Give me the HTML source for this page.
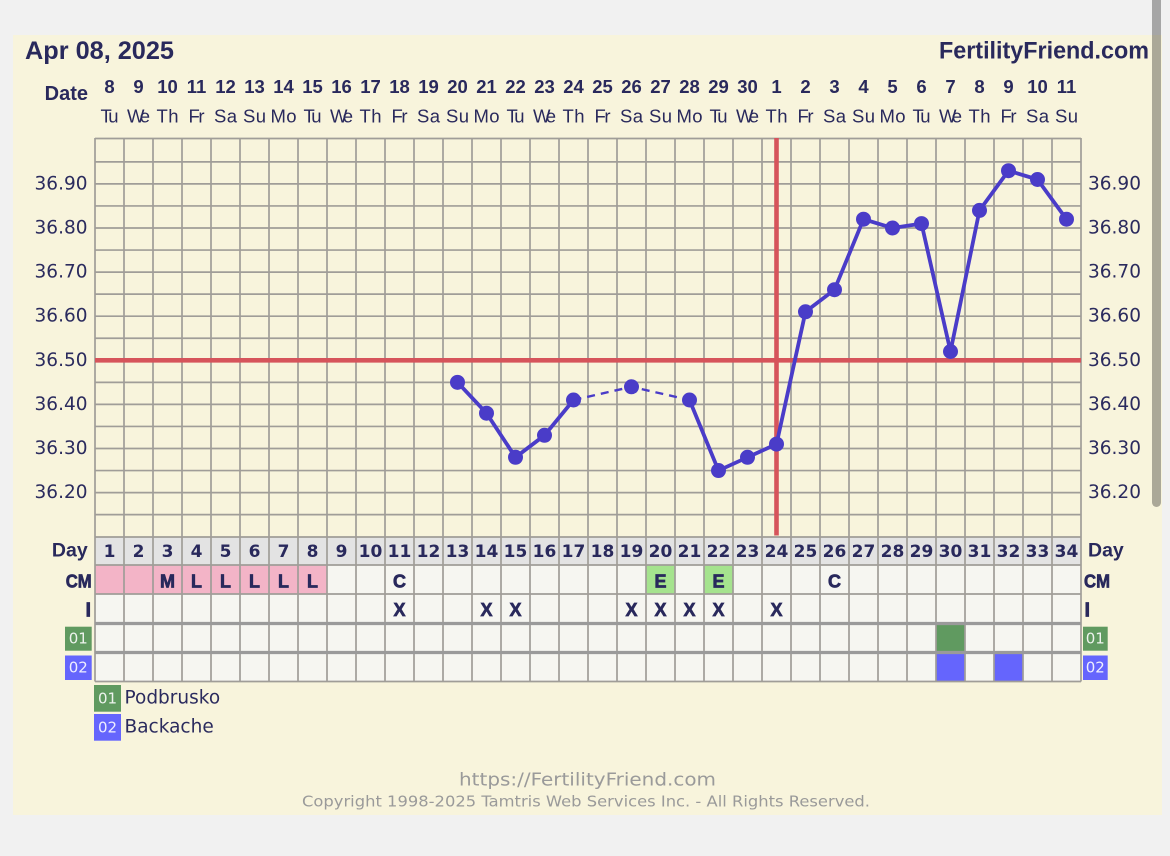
<!DOCTYPE html>
<html><head><meta charset="utf-8"><style>
html,body{margin:0;padding:0;background:#f1f1f1;}
svg{display:block;}
.b{font-family:"Liberation Sans",sans-serif;font-weight:bold;fill:#29295c;}
.r{font-family:"Liberation Sans",sans-serif;fill:#29295c;}
.v{font-family:"DejaVu Sans",sans-serif;fill:#2b2b5e;}
.vb{font-family:"DejaVu Sans",sans-serif;font-weight:bold;fill:#29295c;}
.hv{stroke:#29295c;stroke-width:0.7;}
</style></head><body>
<svg width="1170" height="856" viewBox="0 0 1170 856" xmlns="http://www.w3.org/2000/svg">
<rect x="0" y="0" width="1170" height="856" fill="#f1f1f1"/>
<rect x="13" y="35" width="1149" height="780" fill="#f8f4dc"/>

<!-- header -->
<text class="b" x="25" y="59" font-size="25" textLength="149" lengthAdjust="spacingAndGlyphs">Apr 08, 2025</text>
<text class="b" x="939" y="58.5" font-size="24" textLength="210" lengthAdjust="spacingAndGlyphs">FertilityFriend.com</text>
<text class="b" x="88" y="100" font-size="20" text-anchor="end">Date</text>

<!-- date numbers -->
<g class="b" font-size="18.5" text-anchor="middle">
<text x="109.5" y="93">8</text><text x="138.5" y="93">9</text><text x="167.5" y="93">10</text><text x="196.5" y="93">11</text><text x="225.5" y="93">12</text><text x="254.5" y="93">13</text><text x="283.5" y="93">14</text><text x="312.5" y="93">15</text><text x="341.5" y="93">16</text><text x="370.5" y="93">17</text><text x="399.5" y="93">18</text><text x="428.5" y="93">19</text><text x="457.5" y="93">20</text><text x="486.5" y="93">21</text><text x="515.5" y="93">22</text><text x="544.5" y="93">23</text><text x="573.5" y="93">24</text><text x="602.5" y="93">25</text><text x="631.5" y="93">26</text><text x="660.5" y="93">27</text><text x="689.5" y="93">28</text><text x="718.5" y="93">29</text><text x="747.5" y="93">30</text><text x="776.5" y="93">1</text><text x="805.5" y="93">2</text><text x="834.5" y="93">3</text><text x="863.5" y="93">4</text><text x="892.5" y="93">5</text><text x="921.5" y="93">6</text><text x="950.5" y="93">7</text><text x="979.5" y="93">8</text><text x="1008.5" y="93">9</text><text x="1037.5" y="93">10</text><text x="1066.5" y="93">11</text>
</g>
<!-- weekdays -->
<g class="r" font-size="18.5" text-anchor="middle" lengthAdjust="spacingAndGlyphs">
<text x="109.5" y="122.5" textLength="18">Tu</text><text x="138.5" y="122.5" textLength="23">We</text><text x="167.5" y="122.5" textLength="22">Th</text><text x="196.5" y="122.5" textLength="16">Fr</text><text x="225.5" y="122.5" textLength="23">Sa</text><text x="254.5" y="122.5" textLength="23">Su</text><text x="283.5" y="122.5" textLength="26">Mo</text>
<text x="312.5" y="122.5" textLength="18">Tu</text><text x="341.5" y="122.5" textLength="23">We</text><text x="370.5" y="122.5" textLength="22">Th</text><text x="399.5" y="122.5" textLength="16">Fr</text><text x="428.5" y="122.5" textLength="23">Sa</text><text x="457.5" y="122.5" textLength="23">Su</text><text x="486.5" y="122.5" textLength="26">Mo</text>
<text x="515.5" y="122.5" textLength="18">Tu</text><text x="544.5" y="122.5" textLength="23">We</text><text x="573.5" y="122.5" textLength="22">Th</text><text x="602.5" y="122.5" textLength="16">Fr</text><text x="631.5" y="122.5" textLength="23">Sa</text><text x="660.5" y="122.5" textLength="23">Su</text><text x="689.5" y="122.5" textLength="26">Mo</text>
<text x="718.5" y="122.5" textLength="18">Tu</text><text x="747.5" y="122.5" textLength="23">We</text><text x="776.5" y="122.5" textLength="22">Th</text><text x="805.5" y="122.5" textLength="16">Fr</text><text x="834.5" y="122.5" textLength="23">Sa</text><text x="863.5" y="122.5" textLength="23">Su</text><text x="892.5" y="122.5" textLength="26">Mo</text>
<text x="921.5" y="122.5" textLength="18">Tu</text><text x="950.5" y="122.5" textLength="23">We</text><text x="979.5" y="122.5" textLength="22">Th</text><text x="1008.5" y="122.5" textLength="16">Fr</text><text x="1037.5" y="122.5" textLength="23">Sa</text><text x="1066.5" y="122.5" textLength="23">Su</text>
</g>

<!-- table backgrounds -->
<rect x="95" y="537" width="986" height="28" fill="#e3e3e3"/>
<rect x="95" y="565" width="986" height="116.5" fill="#f6f6f1"/>
<rect x="95" y="565" width="232" height="29" fill="#f3b4c7"/>
<rect x="646" y="565" width="29" height="29" fill="#a5e38e"/>
<rect x="704" y="565" width="29" height="29" fill="#a5e38e"/>
<rect x="936" y="624" width="29" height="28" fill="#609a60"/>
<rect x="936" y="653" width="29" height="28.5" fill="#6565fd"/>
<rect x="994" y="653" width="29" height="28.5" fill="#6565fd"/>

<!-- grid -->
<g stroke="#a09d98" stroke-width="1.7" fill="none">
<path d="M95 138V681.5M124 138V681.5M153 138V681.5M182 138V681.5M211 138V681.5M240 138V681.5M269 138V681.5M298 138V681.5M327 138V681.5M356 138V681.5M385 138V681.5M414 138V681.5M443 138V681.5M472 138V681.5M501 138V681.5M530 138V681.5M559 138V681.5M588 138V681.5M617 138V681.5M646 138V681.5M675 138V681.5M704 138V681.5M733 138V681.5M762 138V681.5M791 138V681.5M820 138V681.5M849 138V681.5M878 138V681.5M907 138V681.5M936 138V681.5M965 138V681.5M994 138V681.5M1023 138V681.5M1052 138V681.5M1081 138V681.5"/>
<path d="M95 138.5H1081M95 161.85H1081M95 183.9H1081M95 205.95H1081M95 228H1081M95 250.05H1081M95 272.1H1081M95 294.15H1081M95 316.2H1081M95 338.25H1081M95 382.35H1081M95 404.4H1081M95 426.45H1081M95 448.5H1081M95 470.55H1081M95 492.6H1081M95 514.65H1081M95 537H1081M95 565H1081M95 594H1081M95 681.5H1081"/>
<path d="M95 623.5H1081M95 652.5H1081" stroke-width="3.2" stroke="#9a9a9a"/>
</g>

<!-- red lines -->
<line x1="95" y1="360.3" x2="1081" y2="360.3" stroke="#d6545b" stroke-width="4.6"/>
<line x1="776.5" y1="138" x2="776.5" y2="535.5" stroke="#d6545b" stroke-width="4.6"/>

<!-- data -->
<g stroke="#4a3cc8" fill="none" stroke-linejoin="round">
<polyline stroke-width="3.8" points="457.5,382.35 486.5,413.2 515.5,457.3 544.5,435.3 573.5,400"/>
<polyline stroke-width="2.4" stroke-dasharray="8,6" points="573.5,400 631.5,386.8 689.5,400"/>
<polyline stroke-width="3.8" points="689.5,400 718.5,470.55 747.5,457.3 776.5,444.1 805.5,311.8 834.5,289.7 863.5,219.2 892.5,228 921.5,223.6 950.5,351.5 979.5,210.4 1008.5,170.7 1037.5,179.5 1066.5,219.2"/>
</g>
<g fill="#4a3cc8">
<circle cx="457.5" cy="382.35" r="7.5"/><circle cx="486.5" cy="413.2" r="7.5"/><circle cx="515.5" cy="457.3" r="7.5"/><circle cx="544.5" cy="435.3" r="7.5"/><circle cx="573.5" cy="400" r="7.5"/><circle cx="631.5" cy="386.8" r="7.5"/><circle cx="689.5" cy="400" r="7.5"/><circle cx="718.5" cy="470.55" r="7.5"/><circle cx="747.5" cy="457.3" r="7.5"/><circle cx="776.5" cy="444.1" r="7.5"/><circle cx="805.5" cy="311.8" r="7.5"/><circle cx="834.5" cy="289.7" r="7.5"/><circle cx="863.5" cy="219.2" r="7.5"/><circle cx="892.5" cy="228" r="7.5"/><circle cx="921.5" cy="223.6" r="7.5"/><circle cx="950.5" cy="351.5" r="7.5"/><circle cx="979.5" cy="210.4" r="7.5"/><circle cx="1008.5" cy="170.7" r="7.5"/><circle cx="1037.5" cy="179.5" r="7.5"/><circle cx="1066.5" cy="219.2" r="7.5"/>
</g>

<!-- y labels -->
<g class="v" font-size="18.5" text-anchor="end">
<text x="87.5" y="189.4">36.90</text><text x="87.5" y="233.5">36.80</text><text x="87.5" y="277.6">36.70</text><text x="87.5" y="321.7">36.60</text><text x="87.5" y="365.8">36.50</text><text x="87.5" y="409.9">36.40</text><text x="87.5" y="454">36.30</text><text x="87.5" y="498.1">36.20</text>
</g>
<g class="v" font-size="18.5">
<text x="1088" y="189.4">36.90</text><text x="1088" y="233.5">36.80</text><text x="1088" y="277.6">36.70</text><text x="1088" y="321.7">36.60</text><text x="1088" y="365.8">36.50</text><text x="1088" y="409.9">36.40</text><text x="1088" y="454">36.30</text><text x="1088" y="498.1">36.20</text>
</g>

<!-- day numbers -->
<g class="vb" font-size="17" text-anchor="middle">
<text x="109.5" y="557">1</text><text x="138.5" y="557">2</text><text x="167.5" y="557">3</text><text x="196.5" y="557">4</text><text x="225.5" y="557">5</text><text x="254.5" y="557">6</text><text x="283.5" y="557">7</text><text x="312.5" y="557">8</text><text x="341.5" y="557">9</text><text x="370.5" y="557">10</text><text x="399.5" y="557">11</text><text x="428.5" y="557">12</text><text x="457.5" y="557">13</text><text x="486.5" y="557">14</text><text x="515.5" y="557">15</text><text x="544.5" y="557">16</text><text x="573.5" y="557">17</text><text x="602.5" y="557">18</text><text x="631.5" y="557">19</text><text x="660.5" y="557">20</text><text x="689.5" y="557">21</text><text x="718.5" y="557">22</text><text x="747.5" y="557">23</text><text x="776.5" y="557">24</text><text x="805.5" y="557">25</text><text x="834.5" y="557">26</text><text x="863.5" y="557">27</text><text x="892.5" y="557">28</text><text x="921.5" y="557">29</text><text x="950.5" y="557">30</text><text x="979.5" y="557">31</text><text x="1008.5" y="557">32</text><text x="1037.5" y="557">33</text><text x="1066.5" y="557">34</text>
</g>

<!-- CM letters -->
<g class="b hv" font-size="18" text-anchor="middle">
<text x="167.5" y="587.5">M</text><text x="196.5" y="587.5">L</text><text x="225.5" y="587.5">L</text><text x="254.5" y="587.5">L</text><text x="283.5" y="587.5">L</text><text x="312.5" y="587.5">L</text>
<text x="399.5" y="587.5">C</text><text x="660.5" y="587.5">E</text><text x="718.5" y="587.5">E</text><text x="834.5" y="587.5">C</text>
</g>
<!-- I row -->
<g class="b hv" font-size="18" text-anchor="middle">
<text x="399.5" y="616">X</text><text x="486.5" y="616">X</text><text x="515.5" y="616">X</text><text x="631.5" y="616">X</text><text x="660.5" y="616">X</text><text x="689.5" y="616">X</text><text x="718.5" y="616">X</text><text x="776.5" y="616">X</text>
</g>

<!-- row labels left -->
<text class="b" x="87.7" y="556.7" font-size="19.5" text-anchor="end">Day</text>
<text class="b hv" x="91.7" y="587.7" font-size="18.5" text-anchor="end" textLength="26" lengthAdjust="spacingAndGlyphs">CM</text>
<text class="b hv" x="91" y="616.7" font-size="20" text-anchor="end">I</text>
<rect x="65" y="626.7" width="26.7" height="24" fill="#609a60"/>
<text class="v" x="78.3" y="643.5" font-size="15" text-anchor="middle" style="fill:#eef3ee">01</text>
<rect x="65" y="655.5" width="26.7" height="24.5" fill="#6565fd"/>
<text class="v" x="78.3" y="672.5" font-size="15" text-anchor="middle" style="fill:#eeeeff">02</text>

<!-- row labels right -->
<text class="b" x="1088" y="556.7" font-size="19.5">Day</text>
<text class="b hv" x="1084" y="587.7" font-size="18.5" textLength="26" lengthAdjust="spacingAndGlyphs">CM</text>
<text class="b hv" x="1084.5" y="616.7" font-size="20">I</text>
<rect x="1083" y="626.7" width="24.7" height="24" fill="#609a60"/>
<text class="v" x="1095.3" y="643.5" font-size="15" text-anchor="middle" style="fill:#eef3ee">01</text>
<rect x="1083" y="655.5" width="24.7" height="24.5" fill="#6565fd"/>
<text class="v" x="1095.3" y="672.5" font-size="15" text-anchor="middle" style="fill:#eeeeff">02</text>

<!-- legend -->
<rect x="94" y="685" width="27" height="26.7" fill="#609a60"/>
<text class="v" x="107.5" y="703.5" font-size="15" text-anchor="middle" style="fill:#eef3ee">01</text>
<text class="v" x="124.5" y="703.3" font-size="18.5">Podbrusko</text>
<rect x="94" y="714" width="27" height="26.7" fill="#6565fd"/>
<text class="v" x="107.5" y="732.5" font-size="15" text-anchor="middle" style="fill:#eeeeff">02</text>
<text class="v" x="124.5" y="732.3" font-size="18.5">Backache</text>

<!-- footer -->
<text x="459" y="785.5" font-family="'DejaVu Sans',sans-serif" font-size="18" fill="#9a9a9a" textLength="257" lengthAdjust="spacingAndGlyphs">https://FertilityFriend.com</text>
<text x="302" y="806.5" font-family="'DejaVu Sans',sans-serif" font-size="15" fill="#9a9a9a" textLength="568" lengthAdjust="spacingAndGlyphs">Copyright 1998-2025 Tamtris Web Services Inc. - All Rights Reserved.</text>

<!-- scrollbar thumb -->
<rect x="1152" y="-10" width="9" height="517" rx="4.5" fill="rgba(0,0,0,0.31)"/>
</svg>
</body></html>
